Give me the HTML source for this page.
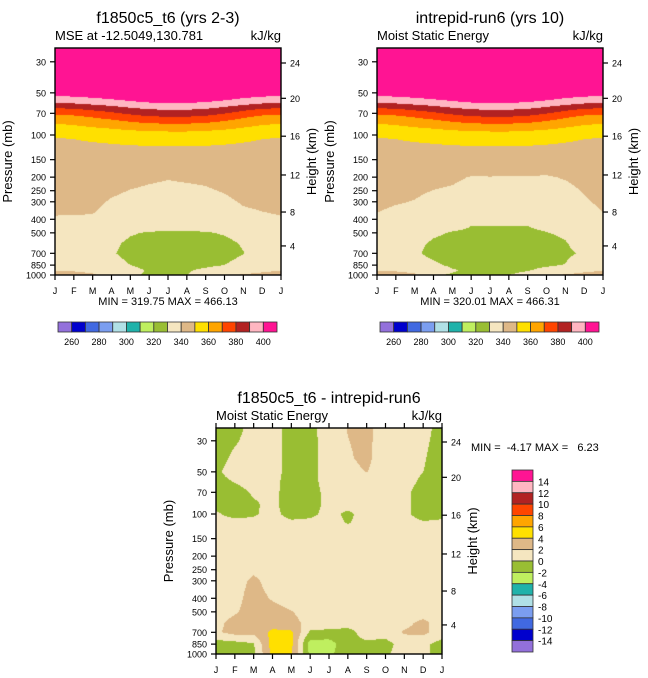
<!DOCTYPE html>
<html><head><meta charset="utf-8">
<style>
html,body{margin:0;padding:0;background:#fff;}
#root{position:relative;width:648px;height:678px;overflow:hidden;font-family:"Liberation Sans",Arial,sans-serif;}
canvas{position:absolute;}
svg{position:absolute;left:0;top:0;}
</style></head>
<body>
<div id="root">
<canvas id="cA"></canvas>
<canvas id="cB"></canvas>
<canvas id="cC"></canvas>
<svg id="ov" width="648" height="678"></svg>
</div>
<script>
const months = ["J","F","M","A","M","J","J","A","S","O","N","D","J"];
const pressureTicks = [30,50,70,100,150,200,250,300,400,500,700,850,1000];
const heightTicks = [24,20,16,12,8,4];
const heightTickPressures = [30.6,54.7,102,193,355,620];
const palette = ["#9370DB","#0000CD","#4169E1","#7B9EF0","#B0E0E6","#20B2AA","#BFEF5F","#99BE33","#F5E6C0","#DEB887","#FFE000","#FFA500","#FF4500","#B22222","#FFB6C1","#FF1493"];
const levelsMSE = [260,270,280,290,300,310,320,330,340,350,360,370,380,390,400];
const levelsDiff = [-14,-12,-10,-8,-6,-4,-2,0,2,4,6,8,10,12,14];
const mseLabels = [260,280,300,320,340,360,380,400];

const pLevAB = [23,40,52,59,66,74,83,94,103,120,200,300,400,500,600,700,850,925,1000];
const mseA = [
[466,466,466,466,466,466,466,466,466,466,466,466,466],
[425,426,428,430,432.5,434.5,435,435,434,431.5,428.5,426,425],
[401,402,403.5,405.5,407.5,409.5,410,410,409,407,404,402,401],
[390,391,393,395,397.5,399.5,400,400,399,396.5,393.5,391,390],
[377,378.3,380.9,383.5,386.8,389.4,390,390,388.7,385.5,381.6,378.3,377],
[367,368.3,370.9,373.5,376.8,379.4,380,380,378.7,375.5,371.6,368.3,367],
[360,361,363,365,367.5,369.5,370,370,369,366.5,363.5,361,360],
[355,355.5,356.5,357.5,358.8,359.8,360.2,360.2,359.5,358.3,356.8,355.5,355],
[350.2,350.6,351.8,353,354.5,355.7,356,356,355.4,353.9,352.1,350.6,350.2],
[348,348.2,348.6,349,349.5,349.9,350,350,349.8,349.3,348.7,348.2,348],
[343,343,343,342.5,341.5,340.8,340.3,340.6,341,342,343,343,343],
[341.5,341.5,341.2,339.5,338.5,338,337.8,338,338.2,339,340.5,341,341.5],
[339.6,339.5,339.5,338,337,336,335.5,335.5,336,337,338.5,339.2,339.6],
[335,335,334,332,330.5,329.5,329,329,329.5,330.5,332,334,335],
[334.5,334,333,331,329,328,327.5,327.5,328,328.5,330.5,333,334.5],
[334.5,334,333,330.5,328.5,327.5,327,327,327.5,328,329.8,332.5,334.5],
[335,335,334,332,330,328.5,328,328,329,330,332,334,335],
[339.5,339,338,335,331.5,329.5,329,329.5,331,333,336,338.5,339.5],
[344,343,341,337,330.5,329.5,329.5,329.9,332,338.5,341,342,344]
];
const mseB = [
[466,466,466,466,466,466,466,466,466,466,466,466,466],
[425,426,428,430,432.5,434.5,435,435,434,431.5,428.5,426,425],
[401,402,403.5,405.5,407.5,409.5,410,410,409,407,404,402,401],
[390,391,393,395,397.5,399.5,400,400,399,396.5,393.5,391,390],
[377,378.3,380.9,383.5,386.8,389.4,390,390,388.7,385.5,381.6,378.3,377],
[367,368.3,370.9,373.5,376.8,379.4,380,380,378.7,375.5,371.6,368.3,367],
[360,361,363,365,367.5,369.5,370,370,369,366.5,363.5,361,360],
[355,355.5,356.5,357.5,358.8,359.8,360.2,360.2,359.5,358.3,356.8,355.5,355],
[350.2,350.6,351.8,353,354.5,355.7,356,356,355.4,353.9,352.1,350.6,350.2],
[348,348.2,348.6,349,349.5,349.9,350,350,349.8,349.3,348.7,348.2,348],
[343,342.5,342,341.5,341,339.7,339.8,339.7,339.6,339.4,340.5,342,343],
[341.3,340.4,339.8,338.6,337.9,337,337,337,337,337,336.5,339.2,341.3],
[339.2,338.2,337.5,336.5,334,331,331,331,331,332.5,334.5,336.5,339.2],
[335,335,333.5,331,329.5,329,329,329,329,329.8,331,333.5,335],
[334,333.5,331.5,329,328,327.5,327,327,327.5,328,329.5,332.5,334],
[334,333,330.8,328.5,327.5,327,327,327,327,327.5,329,330.8,334],
[335,334.5,333,331,329,328,327.5,327.5,328,329,330.2,333,335],
[339.5,339,338,334,330.5,329,328.5,328.5,329.5,332,335,338,339.5],
[344,343,341,330.5,329.5,329.5,329.5,329.9,332,338.5,341,342.5,344]
];
const pLevC = [23,40,50,60,70,85,100,115,130,250,300,400,500,600,700,850,1000];
const diffC = [
[-1,-1,1,1,-1,-0.6,1,2.1,2.5,1,1,1,-1],
[-1,0.5,1,1,-1,-0.7,1,1.8,2.4,1,1,0.3,-1.5],
[-0.5,1.2,1.2,1,-1,-0.7,1,1.5,2.05,1,1,0,-1.5],
[-1,0,1,0.8,-1.2,-0.8,1,1,1,1,0.8,-0.5,-1.5],
[-1,-1,0.3,0.7,-1.2,-1,0.8,1,1,1,0.5,-1,-1.5],
[-0.6,-1,-0.3,0.6,-1.2,-1,0.7,1,1,1,0.5,-1,-1.2],
[0.3,-0.8,-0.3,0.8,-1,-0.6,0.8,-0.5,1,1,0.5,-1,-0.8],
[1,0.8,0.6,1,0.5,0.6,1,-0.2,1,1,1,0.2,0.5],
[1,1,1,1,1,1,1,1,1,1,1,1,1],
[1,1,1.6,1,1,1,1,1,1,1,1,1,1],
[1,1.2,2.4,1.2,1,1,1,1,1,1,1,1,1],
[1,1.4,2.8,1.8,1,1,1,1,1,1,1,1,1],
[1,1.8,2.8,2.8,2.1,1,1,1,1,1,1,1,1],
[1.5,2.6,3,3,2.8,1.2,1,1,1,1,1.5,2.5,1],
[1.7,2.7,2.5,4.5,4.3,-0.3,-0.5,-0.8,1,1,2.2,2.5,1],
[-1,-0.8,-0.2,5,4.5,-3,-3,-0.5,-0.5,-0.8,1,0.5,-0.8],
[-0.8,-0.8,-0.3,4.5,4.3,-2.5,-2.5,-0.5,-0.6,-0.3,1,0.5,-0.8]
];

const PXD = 140; // px per pressure decade
const ns = "http://www.w3.org/2000/svg";
const ov = document.getElementById("ov");
function mk(tag, attrs, parent){
  const e = document.createElementNS(ns, tag);
  for (const k in attrs) e.setAttribute(k, attrs[k]);
  (parent||ov).appendChild(e); return e;
}
function hexRGB(h){return [parseInt(h.slice(1,3),16),parseInt(h.slice(3,5),16),parseInt(h.slice(5,7),16)];}
const palRGB = palette.map(hexRGB);
function binOf(v, lev){let i=0; while(i<lev.length && v>=lev[i]) i++; return i;}

function fill(canvasId, P, pLev, grid, lev){
  const W=P.x1-P.x0, H=P.y1-P.y0;
  const c=document.getElementById(canvasId);
  c.width=W; c.height=H; c.style.left=P.x0+"px"; c.style.top=P.y0+"px";
  const ctx=c.getContext("2d"); const img=ctx.createImageData(W,H);
  const lg=pLev.map(p=>Math.log10(p));
  for(let py=0;py<H;py++){
    const lp=3-(H-py-0.5)/PXD;
    let k=0; while(k<lg.length-2 && lp>lg[k+1]) k++;
    let t=(lp-lg[k])/(lg[k+1]-lg[k]); t=Math.max(0,Math.min(1,t));
    for(let px=0;px<W;px++){
      const m=(px+0.5)/W*12; let j=Math.min(11,Math.floor(m)); const u=m-j;
      const a=grid[k][j]*(1-u)+grid[k][j+1]*u, b=grid[k+1][j]*(1-u)+grid[k+1][j+1]*u;
      const v=a*(1-t)+b*t;
      const col=palRGB[binOf(v,lev)]; const o=(py*W+px)*4;
      img.data[o]=col[0];img.data[o+1]=col[1];img.data[o+2]=col[2];img.data[o+3]=255;
    }
  }
  ctx.putImageData(img,0,0);
}

function txt(s,x,y,size,anchor,name,extra){
  const t=mk("text",Object.assign({x:x,y:y,"font-size":size,"text-anchor":anchor||"start",fill:"#000","font-family":"Liberation Sans, Arial, sans-serif"},extra||{}));
  t.textContent=s;   return t;
}

function axes(P, opts){
  const W=P.x1-P.x0;
  const yOf=p=>P.y1-PXD*(3-Math.log10(p));
  const g=mk("g",{});  
  const fr=mk("rect",{x:P.x0,y:P.y0,width:W,height:P.y1-P.y0,fill:"none",stroke:"#000","stroke-width":1.4},g);
   
  months.forEach((mo,i)=>{
    const x=P.x0+i*W/12;
    mk("line",{x1:x,x2:x,y1:P.y1,y2:P.y1+5,stroke:"#000","stroke-width":1.2},g);
    if(opts.topTicks) mk("line",{x1:x,x2:x,y1:P.y0,y2:P.y0-5,stroke:"#000","stroke-width":1.2},g);
    txt(mo,x,P.y1+19,9,"middle",opts.name+"-month-label");
  });
  pressureTicks.forEach(p=>{
    const y=yOf(p);
    mk("line",{x1:P.x0-5,x2:P.x0,y1:y,y2:y,stroke:"#000","stroke-width":1.2},g);
    txt(String(p),P.x0-9,y+3.5,9,"end",opts.name+"-pressure-tick-label");
  });
  heightTicks.forEach((h,i)=>{
    const y=yOf(heightTickPressures[i]);
    mk("line",{x1:P.x1,x2:P.x1+5,y1:y,y2:y,stroke:"#000","stroke-width":1.2},g);
    txt(String(h),P.x1+9,y+3.5,9,"start",opts.name+"-height-tick-label");
  });
  const cy=(P.y0+P.y1)/2;
  txt("Pressure (mb)",P.x0-43,cy,13,"middle",opts.name+"-y-axis-title",{transform:`rotate(-90 ${P.x0-43} ${cy})`});
  txt("Height (km)",P.x1+35,cy,13,"middle",opts.name+"-right-axis-title",{transform:`rotate(-90 ${P.x1+35} ${cy})`});
  txt(opts.title,(P.x0+P.x1)/2,P.y0-25,16,"middle",opts.name+"-title");
  txt(opts.left,P.x0,P.y0-8,13,"start",opts.name+"-left-subtitle");
  txt("kJ/kg",P.x1,P.y0-8,13,"end",opts.name+"-units-label");
}

function hbar(x0,x1,y0,y1,name){
  const bw=(x1-x0)/palette.length;
  palette.forEach((c,i)=>{
    const r=mk("rect",{x:x0+i*bw,y:y0,width:bw,height:y1-y0,fill:c,stroke:"#333","stroke-width":0.8});
     
  });
  levelsMSE.forEach((l,i)=>{
    if(mseLabels.indexOf(l)>=0) txt(String(l),x0+(i+1)*bw,y1+13,9,"middle",name+"-label");
  });
}

const PA={x0:55,x1:281,y0:48,y1:275};
const PB={x0:377,x1:603,y0:48,y1:275};
const PC={x0:216,x1:442,y0:428,y1:654};
fill("cA",PA,pLevAB,mseA,levelsMSE);
fill("cB",PB,pLevAB,mseB,levelsMSE);
fill("cC",PC,pLevC,diffC,levelsDiff);
axes(PA,{name:"panel-a",title:"f1850c5_t6 (yrs 2-3)",left:"MSE at -12.5049,130.781",topTicks:false});
axes(PB,{name:"panel-b",title:"intrepid-run6 (yrs 10)",left:"Moist Static Energy",topTicks:false});
axes(PC,{name:"panel-c",title:"f1850c5_t6 - intrepid-run6",left:"Moist Static Energy",topTicks:true});
txt("MIN = 319.75 MAX = 466.13",168,305,11,"middle","panel-a-min-max");
txt("MIN = 320.01 MAX = 466.31",490,305,11,"middle","panel-b-min-max");
txt("MIN =  -4.17 MAX =   6.23",471,451,11,"start","panel-c-min-max",{style:"white-space:pre"});
hbar(58,277,322,332,"panel-a-colorbar");
hbar(380,599,322,332,"panel-b-colorbar");
(function(){
  const x0=512,x1=533,y0=470,y1=652,bh=(y1-y0)/palette.length;
  for(let i=0;i<palette.length;i++){
    const r=mk("rect",{x:x0,y:y0+i*bh,width:x1-x0,height:bh,fill:palette[palette.length-1-i],stroke:"#333","stroke-width":0.8});
     
  }
  const desc=levelsDiff.slice().reverse();
  desc.forEach((l,i)=>{ txt(String(l),538,y0+(i+1)*bh+4,10,"start","panel-c-colorbar-label"); });
})();
</script>
</body></html>
